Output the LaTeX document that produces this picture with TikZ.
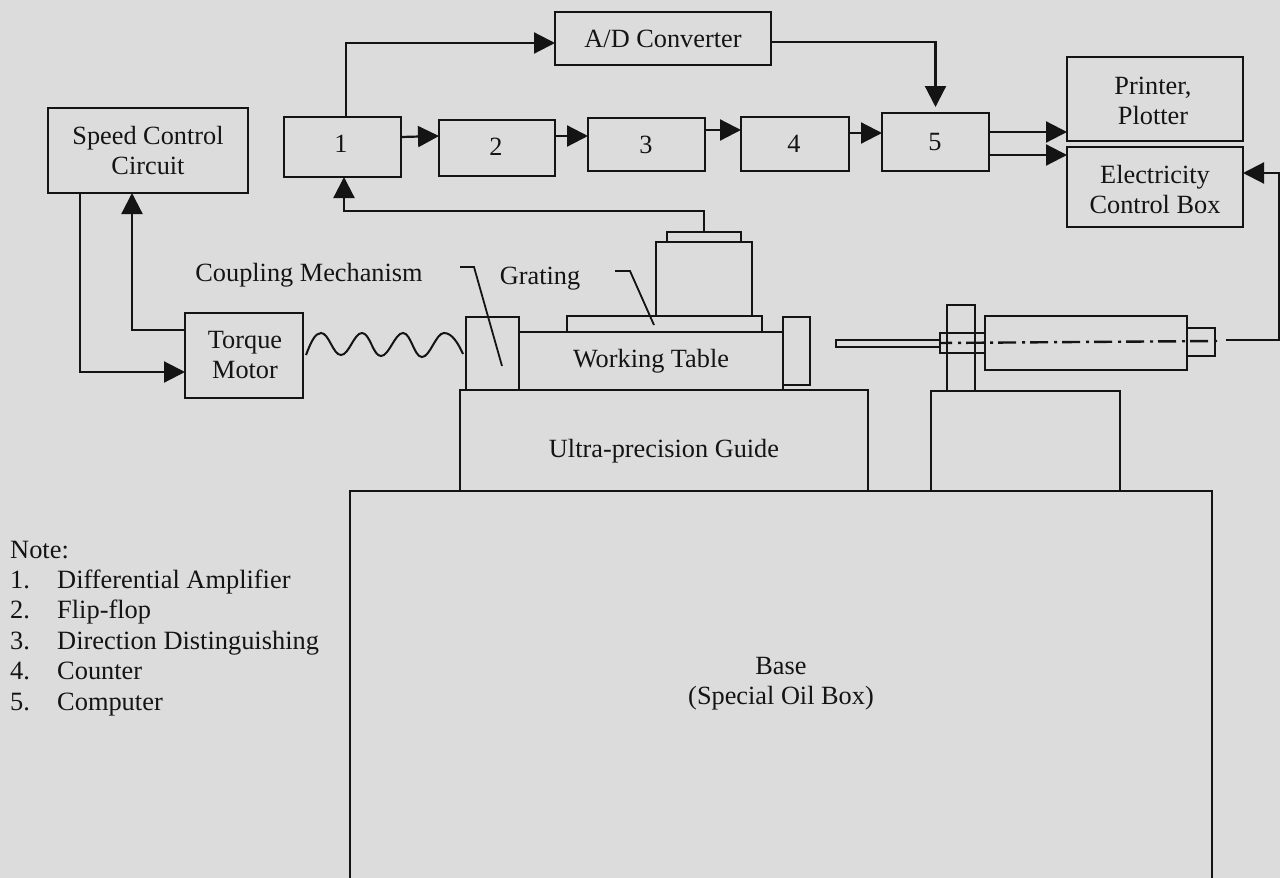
\documentclass[tikz,border=0pt]{standalone}
\usepackage{fontspec}
\setmainfont{Liberation Serif}
\usetikzlibrary{arrows.meta,calc}
\definecolor{bg}{HTML}{DCDCDC}
\definecolor{ink}{HTML}{141414}
\tikzset{
  boxnode/.style={draw=ink,line width=2.2pt,inner sep=0pt,outer sep=0pt},
  lbl/.style={text=ink,font=\fontsize{26.3}{30}\selectfont,align=center,inner sep=0pt},
  notetext/.style={text=ink,font=\fontsize{26.4}{30}\selectfont,anchor=west,inner sep=0pt,text height=17pt,text depth=6pt},
  conn/.style={draw=ink,line width=2.2pt},
  arr/.style={conn,-{Triangle[length=21pt,width=21pt]}},
  leader/.style={draw=ink,line width=1.8pt},
}
\newcommand{\bx}[5]{%
  \pgfmathsetmacro{\bw}{#4-#2}\pgfmathsetmacro{\bh}{#5-#3}%
  \pgfmathsetmacro{\bcx}{(#2+#4)/2}\pgfmathsetmacro{\bcy}{(#3+#5)/2}%
  \node[boxnode,minimum width=\bw pt,minimum height=\bh pt] (#1) at (\bcx,\bcy) {};}
\begin{document}
\begin{tikzpicture}[x=1pt,y=-1pt]
\useasboundingbox (0,0) rectangle (1280,878);
\fill[bg] (0,0) rectangle (1280,878);
\clip (0,0) rectangle (1280,878);
% block diagram
\bx{ad}{555}{12}{771}{65}
\bx{n1}{284}{117}{401}{177}
\bx{n2}{439}{120}{555}{176}
\bx{n3}{588}{118}{705}{171}
\bx{n4}{741}{117}{849}{171}
\bx{n5}{882}{113}{989}{171}
\bx{printer}{1067}{57}{1243}{141}
\bx{elec}{1067}{147}{1243}{227}
\bx{speed}{48}{108}{248}{193}
\bx{torque}{185}{313}{303}{398}
% machine
\bx{coupling}{466}{317}{519}{390}
\bx{table}{519}{332}{783}{390}
\bx{plate}{783}{317}{810}{385}
\bx{grating}{567}{316}{762}{332}
\bx{head}{656}{242}{752}{316}
\bx{cap}{667}{232}{741}{242}
\bx{guide}{460}{390}{868}{491}
\bx{support}{931}{391}{1120}{491}
\bx{base}{350}{491}{1212}{900}
\bx{post}{947}{305}{975}{391}
\bx{rod}{836}{340}{940}{347}
\bx{collar}{940}{333}{985}{353}
\bx{cyl}{985}{316}{1187}{370}
\bx{endcap}{1187}{328}{1215}{356}
% labels
\node[lbl] (tad) at (663,39) {A/D Converter};
\node[lbl] (t1) at (341,144) {1};
\node[lbl] (t2) at (496,147) {2};
\node[lbl] (t3) at (646,145) {3};
\node[lbl] (t4) at (794,144) {4};
\node[lbl] (t5) at (935,142) {5};
\node[lbl] (tprinter) at (1153,101) {Printer,\\Plotter};
\node[lbl] (telec) at (1155,190) {Electricity\\Control Box};
\node[lbl] (tspeed) at (148,151) {Speed Control\\Circuit};
\node[lbl] (ttorque) at (245,355) {Torque\\Motor};
\node[lbl] (tcm) at (309,275) {Coupling Mechanism};
\node[lbl] (tgr) at (540,279) {Grating};
\node[lbl] (ttable) at (651,361) {Working Table};
\node[lbl] (tguide) at (664,451) {Ultra-precision Guide};
\node[lbl] (tbase) at (781,684) {Base\\(Special Oil Box)};
\node[notetext] (note) at (10,553) {Note:};
\node[notetext] (i1) at (10,583) {1.};
\node[notetext] (i2) at (10,613) {2.};
\node[notetext] (i3) at (10,644) {3.};
\node[notetext] (i4) at (10,674) {4.};
\node[notetext] (i5) at (10,705) {5.};
\node[notetext] (d1) at (57,583) {Differential Amplifier};
\node[notetext] (d2) at (57,613) {Flip-flop};
\node[notetext] (d3) at (57,644) {Direction Distinguishing};
\node[notetext] (d4) at (57,674) {Counter};
\node[notetext] (d5) at (57,705) {Computer};
% connectors
\draw[arr] ([xshift=3.5pt]n1.north) |- ([yshift=-4.5pt]ad.west);
\draw[arr] ([yshift=-3.5pt]ad.east) -| ([yshift=6pt]n5.north);
\draw[arr] ([yshift=10pt]n1.east) -- ([yshift=12pt]n2.west);
\draw[arr] ([yshift=12pt]n2.east) -- ([yshift=8.5pt]n3.west);
\draw[arr] ([yshift=14.5pt]n3.east) -- ([yshift=14pt]n4.west);
\draw[arr] ([yshift=11pt]n4.east) -- ([yshift=9pt]n5.west);
\draw[arr] ([yshift=10pt]n5.east) -- ([yshift=-33pt]printer.west);
\draw[arr] ([yshift=-13pt]n5.east) -- ([yshift=32pt]elec.west);
\draw[arr] (cap.north) -- ++(0,-21) -| ([xshift=1.5pt]n1.south);
\draw[arr] ([xshift=-68pt]speed.south) |- ([yshift=-16.5pt]torque.west);
\draw[arr] ([yshift=25.5pt]torque.west) -| ([xshift=-16pt]speed.south);
% leaders
\draw[leader] (460,267) -- (474,267) -- (502,366);
\draw[leader] (615,271) -- (630,271) -- (654,325);
% spring
\draw[conn,line width=2pt] (306,355)
  .. controls (311,342) and (315,333) .. (321,333)
  .. controls (329,333) and (333,355) .. (341,355)
  .. controls (349,355) and (354,333) .. (362,333)
  .. controls (370,333) and (373,356) .. (381,356)
  .. controls (389,356) and (395,333) .. (403,333)
  .. controls (411,333) and (414,357) .. (422,357)
  .. controls (430,357) and (436,333) .. (444,333)
  .. controls (452,333) and (458,343) .. (463,354);
% centre line
\draw[conn,line width=2.4pt,dash pattern=on 18pt off 6pt on 3pt off 5pt,dash phase=6pt] (940,343) -- (1217,341);
\draw[arr] (1226,340) -| (1279,173) -- (elec.east |- 0,173);
\end{tikzpicture}
\end{document}
